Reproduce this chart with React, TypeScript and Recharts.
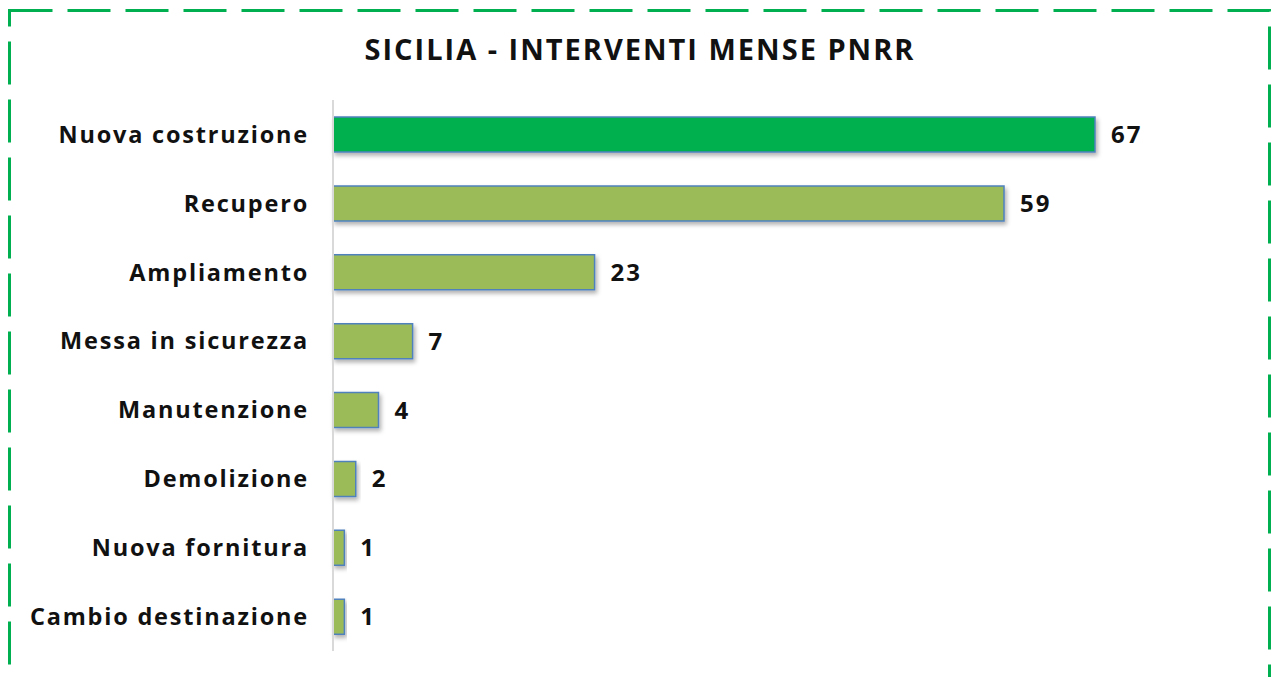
import React from "react";
import { BarChart, Bar, XAxis, YAxis, Cell, LabelList } from "recharts";

const categories = [
  "Nuova costruzione",
  "Recupero",
  "Ampliamento",
  "Messa in sicurezza",
  "Manutenzione",
  "Demolizione",
  "Nuova fornitura",
  "Cambio destinazione",
];
const values = [67, 59, 23, 7, 4, 2, 1, 1];
const highlightIndex = 0;

const data = categories.map((name, i) => ({ name, value: values[i] }));

const FONT = "'Open Sans', sans-serif";

export default function App() {
  return (
    <div
      style={{
        position: "absolute",
        left: 0,
        top: 0,
        width: 1271,
        height: 677,
        overflow: "hidden",
        background: "#fff",
        fontFamily: FONT,
      }}
    >
      <svg
        width={1271}
        height={677}
        style={{ position: "absolute", left: 0, top: 0 }}
      >
        <rect
          x={9.5}
          y={10.5}
          width={1260}
          height={720}
          fill="none"
          stroke="#00B050"
          strokeWidth={3}
          strokeDasharray="43 15"
        />
      </svg>
      <div
        style={{
          position: "absolute",
          left: 0,
          top: 29,
          width: 1280,
          textAlign: "center",
          fontSize: 29,
          fontWeight: 700,
          letterSpacing: 2,
          color: "#111",
        }}
      >
        SICILIA - INTERVENTI MENSE PNRR
      </div>
      <div style={{ position: "absolute", left: 0, top: 0 }}>
        <BarChart
          width={1271}
          height={677}
          data={data}
          layout="vertical"
          margin={{ top: 100, right: 176, bottom: 26, left: 0 }}
        >
          <defs>
            <filter id="barShadow" x="-20%" y="-40%" width="140%" height="200%">
              <feDropShadow dx="2" dy="3" stdDeviation="2" floodColor="#000" floodOpacity="0.3" />
            </filter>
          </defs>
          <XAxis type="number" domain={[0, 67]} hide />
          <YAxis
            type="category"
            dataKey="name"
            width={333}
            axisLine={{ stroke: "#d9d9d9", strokeWidth: 2 }}
            tickLine={false}
            tickSize={0}
            tickMargin={24}
            tick={{
              fill: "#111",
              fontSize: 23.5,
              fontWeight: 700,
              fontFamily: FONT,
              letterSpacing: 1.8,
            }}
            interval={0}
          />
          <Bar
            dataKey="value"
            barSize={35}
            stroke="#4F81BD"
            strokeWidth={1.5}
            filter="url(#barShadow)"
            isAnimationActive={false}
          >
            {data.map((d, i) => (
              <Cell key={d.name} fill={i === highlightIndex ? "#00B050" : "#9BBB59"} />
            ))}
            <LabelList
              dataKey="value"
              position="right"
              offset={16}
              fill="#111"
              fontSize={24}
              fontWeight={700}
              fontFamily={FONT}
              letterSpacing={2}
            />
          </Bar>
        </BarChart>
      </div>
    </div>
  );
}
